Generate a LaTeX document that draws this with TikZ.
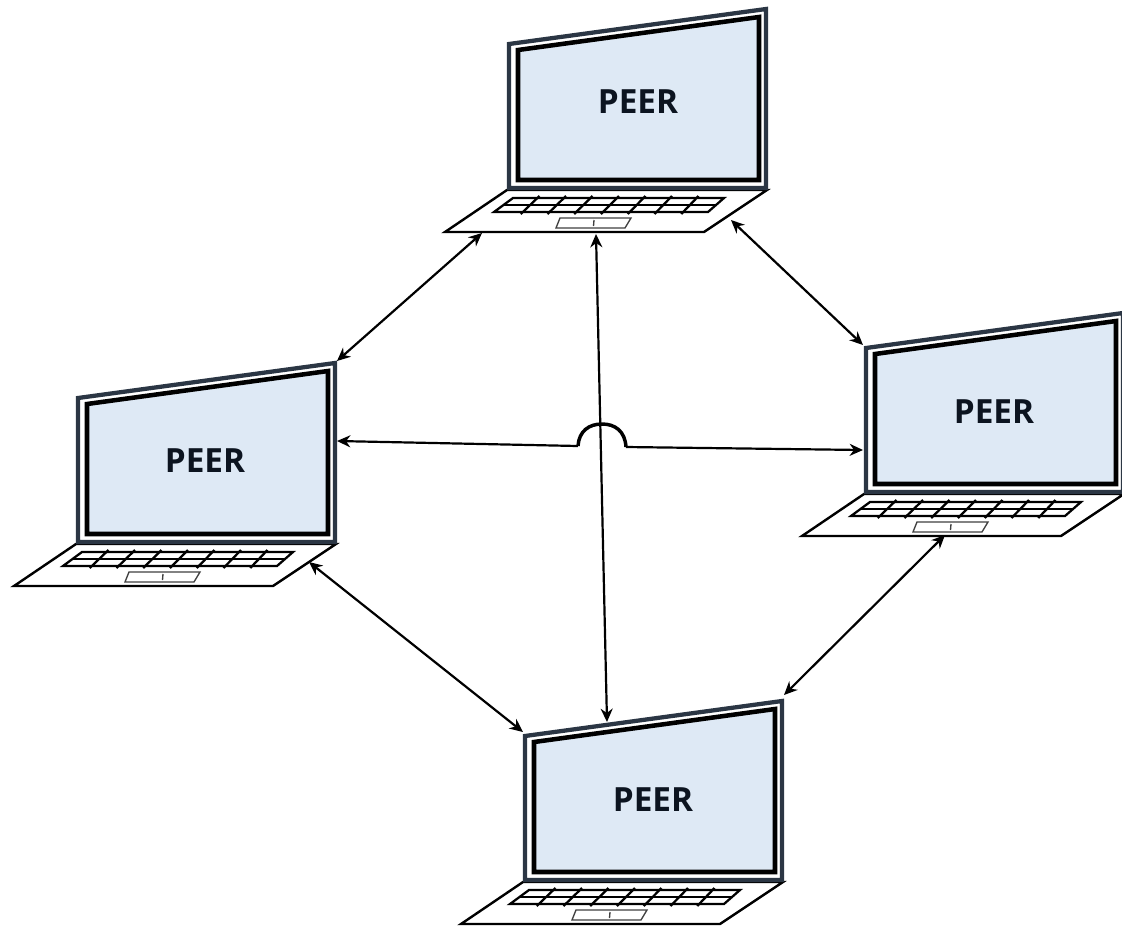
\documentclass[tikz,border=0pt]{standalone}
\usepackage{fontspec}
\setmainfont{Open Sans}
\usetikzlibrary{arrows.meta}
\definecolor{screenblue}{HTML}{DEE9F5}
\definecolor{frameslate}{HTML}{2B3644}
\definecolor{peerink}{HTML}{0C1420}
\tikzset{
  x=0.75pt,y=-0.75pt,
  frameouter/.style={draw=frameslate,line width=3.2pt,fill=white,line join=miter},
  frameinner/.style={draw=black,line width=3.4pt,fill=screenblue,line join=miter},
  deck/.style={draw=black,line width=1.8pt,fill=white,line join=miter},
  keys/.style={draw=black,line width=1.7pt},
  pad/.style={draw=black!75,line width=1pt,fill=white},
  peerlabel/.style={font=\fontsize{25}{29}\selectfont\bfseries,text=peerink,inner sep=0pt},
  link/.style={draw=black,line width=1.65pt,{Stealth[length=10pt,width=9pt]}-{Stealth[length=10pt,width=9pt]}},
  halflink/.style={draw=black,line width=1.65pt,-{Stealth[length=10pt,width=9pt]}},
}
% #1 shift x, #2 shift y, #3 name, #4 label x, #5 label y (absolute)
\newcommand{\peerlaptop}[5]{%
  \begin{scope}[shift={(#1,#2)}]
    \draw[deck] (507,190) -- (767,190) -- (704,232) -- (445,232) -- cycle;
    \draw[frameouter] (509,44) -- (766,9) -- (766,188) -- (509,188) -- cycle;
    \draw[frameinner] (518,50) -- (759,17) -- (759,180) -- (518,180) -- cycle;
    \draw[keys,fill=white] (513,198) -- (724,198) -- (708,212) -- (494,212) -- cycle;
    \draw[keys] (503,205) -- (716,205);
    \foreach \i in {1,...,7}{
      \draw[keys] ({513+\i*26.5},196) -- ({494+\i*26.75},214);
    }
    \draw[pad] (560,218) -- (631,218) -- (625,228) -- (556,228) -- cycle;
    \draw[pad] (594,220) -- (593.5,226);
  \end{scope}
  \node[peerlabel] (#3) at (#4,#5) {PEER};
}
\begin{document}
\begin{tikzpicture}
\useasboundingbox (0,0) rectangle (1122,926);
\peerlaptop{0}{0}{top}{638}{102}
\peerlaptop{-431}{354}{left}{205}{461}
\peerlaptop{357}{304}{right}{994}{412}
\peerlaptop{16}{692}{bottom}{653}{800}
\coordinate (tl) at (482,233);
\coordinate (lt) at (337,361);
\coordinate (tr) at (731,220);
\coordinate (rt) at (863,345);
\coordinate (tb) at (596,234);
\coordinate (bt) at (607,722);
\coordinate (lr) at (337,441);
\coordinate (rl) at (863,450);
\coordinate (arcw) at (578,446);
\coordinate (arce) at (626,447);
\coordinate (lb) at (309,562);
\coordinate (bl) at (523,732);
\coordinate (rb) at (945,535);
\coordinate (br) at (784,695);
\draw[link] (tl) -- (lt);
\draw[link] (tr) -- (rt);
\draw[link] (tb) -- (bt);
\draw[link] (lb) -- (bl);
\draw[link] (rb) -- (br);
\draw[halflink] (arcw) -- (lr);
\draw[halflink] (arce) -- (rl);
\draw[draw=black,line width=2.6pt] (arcw) .. controls (579,431) and (589,424) .. (602,424) .. controls (615,424) and (625,431) .. (arce);
\end{tikzpicture}
\end{document}
